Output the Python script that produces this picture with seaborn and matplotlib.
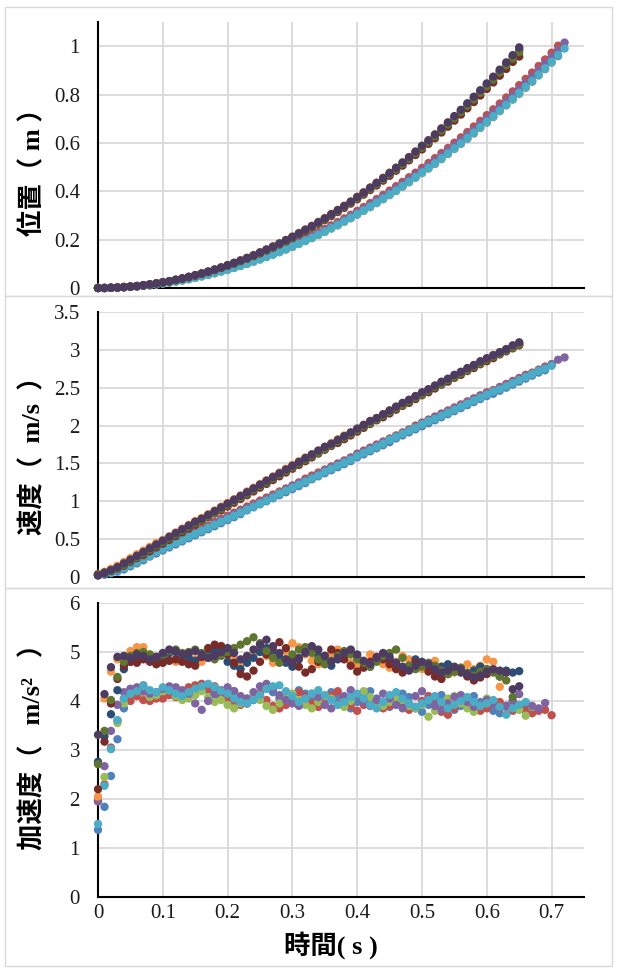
import pandas as pd
import matplotlib
matplotlib.use('Agg')
import matplotlib.pyplot as plt
from matplotlib.patches import Rectangle
from matplotlib.ticker import FuncFormatter
import seaborn as sns

sns.set_style('white')
plt.rcParams['font.family'] = ['Liberation Serif', 'Noto Sans CJK JP']

# time axis (s), 0.01 s steps
T = [0.00, 0.01, 0.02, 0.03, 0.04, 0.05, 0.06, 0.07, 0.08, 0.09,
     0.10, 0.11, 0.12, 0.13, 0.14, 0.15, 0.16, 0.17, 0.18, 0.19,
     0.20, 0.21, 0.22, 0.23, 0.24, 0.25, 0.26, 0.27, 0.28, 0.29,
     0.30, 0.31, 0.32, 0.33, 0.34, 0.35, 0.36, 0.37, 0.38, 0.39,
     0.40, 0.41, 0.42, 0.43, 0.44, 0.45, 0.46, 0.47, 0.48, 0.49,
     0.50, 0.51, 0.52, 0.53, 0.54, 0.55, 0.56, 0.57, 0.58, 0.59,
     0.60, 0.61, 0.62, 0.63, 0.64, 0.65, 0.66, 0.67, 0.68, 0.69,
     0.70, 0.71, 0.72]

SERIES = ['系列1', '系列2', '系列3', '系列4', '系列5',
          '系列6', '系列7', '系列8', '系列9', '系列10']
COLORS = ['#4F81BD', '#C0504D', '#9BBB59', '#8064A2', '#4BACC6',
          '#F79646', '#2C4D75', '#772C2A', '#5F7530', '#4D3B62']

# ---- position (m)
pos_1 = [0.000, 0.000, 0.001, 0.001, 0.003, 0.004, 0.006, 0.009, 0.011, 0.014,
         0.018, 0.022, 0.027, 0.031, 0.036, 0.042, 0.048, 0.054, 0.061, 0.068,
         0.075, 0.083, 0.091, 0.100, 0.109, 0.118, 0.128, 0.138, 0.148, 0.159,
         0.170, 0.182, 0.194, 0.206, 0.219, 0.232, 0.246, 0.259, 0.274, 0.288,
         0.303, 0.319, 0.334, 0.351, 0.367, 0.384, 0.401, 0.419, 0.437, 0.456,
         0.475, 0.494, 0.513, 0.533, 0.554, 0.575, 0.596, 0.617, 0.639, 0.662,
         0.684, 0.707, 0.731, 0.755, 0.779, 0.803, 0.828, 0.853, 0.879, 0.905,
         0.932, 0.959]
pos_2 = [0.000, 0.000, 0.001, 0.002, 0.003, 0.005, 0.007, 0.010, 0.013, 0.016,
         0.020, 0.024, 0.029, 0.034, 0.039, 0.045, 0.051, 0.058, 0.065, 0.072,
         0.080, 0.088, 0.097, 0.106, 0.115, 0.125, 0.135, 0.146, 0.157, 0.168,
         0.180, 0.192, 0.205, 0.218, 0.231, 0.245, 0.259, 0.273, 0.288, 0.303,
         0.319, 0.335, 0.351, 0.368, 0.385, 0.403, 0.421, 0.439, 0.458, 0.477,
         0.497, 0.517, 0.537, 0.558, 0.579, 0.601, 0.623, 0.645, 0.668, 0.691,
         0.715, 0.739, 0.763, 0.788, 0.813, 0.839, 0.865, 0.891, 0.918, 0.945,
         0.973, 1.002]
pos_3 = [0.000, 0.000, 0.001, 0.002, 0.003, 0.005, 0.007, 0.009, 0.012, 0.015,
         0.019, 0.023, 0.027, 0.032, 0.037, 0.043, 0.048, 0.055, 0.061, 0.068,
         0.076, 0.084, 0.092, 0.100, 0.109, 0.119, 0.128, 0.139, 0.149, 0.160,
         0.171, 0.183, 0.195, 0.207, 0.220, 0.233, 0.247, 0.261, 0.275, 0.290,
         0.305, 0.320, 0.336, 0.352, 0.369, 0.386, 0.403, 0.421, 0.439, 0.458,
         0.477, 0.496, 0.516, 0.536, 0.556, 0.577, 0.598, 0.620, 0.642, 0.664,
         0.687, 0.710, 0.733, 0.757, 0.781, 0.806, 0.831, 0.856, 0.882, 0.908,
         0.935]
pos_4 = [0.000, 0.000, 0.001, 0.002, 0.003, 0.005, 0.007, 0.010, 0.012, 0.016,
         0.019, 0.024, 0.028, 0.033, 0.038, 0.044, 0.050, 0.056, 0.063, 0.070,
         0.078, 0.086, 0.094, 0.103, 0.112, 0.122, 0.132, 0.142, 0.153, 0.164,
         0.176, 0.188, 0.200, 0.213, 0.226, 0.239, 0.253, 0.267, 0.282, 0.297,
         0.312, 0.328, 0.344, 0.361, 0.378, 0.395, 0.413, 0.431, 0.449, 0.468,
         0.488, 0.507, 0.527, 0.548, 0.569, 0.590, 0.612, 0.634, 0.656, 0.679,
         0.702, 0.726, 0.750, 0.774, 0.799, 0.824, 0.850, 0.876, 0.902, 0.929,
         0.956, 0.985, 1.015]
pos_5 = [0.000, 0.000, 0.001, 0.002, 0.003, 0.005, 0.007, 0.009, 0.012, 0.015,
         0.019, 0.023, 0.028, 0.032, 0.037, 0.043, 0.049, 0.055, 0.062, 0.069,
         0.076, 0.084, 0.092, 0.101, 0.110, 0.119, 0.129, 0.139, 0.150, 0.161,
         0.172, 0.184, 0.196, 0.208, 0.221, 0.234, 0.248, 0.261, 0.276, 0.291,
         0.306, 0.321, 0.337, 0.353, 0.370, 0.387, 0.404, 0.422, 0.440, 0.459,
         0.478, 0.497, 0.516, 0.537, 0.557, 0.578, 0.599, 0.621, 0.643, 0.665,
         0.688, 0.711, 0.734, 0.758, 0.782, 0.807, 0.832, 0.857, 0.883, 0.909,
         0.936, 0.963, 0.990]
pos_6 = [0.000, 0.001, 0.002, 0.003, 0.005, 0.007, 0.009, 0.012, 0.016, 0.020,
         0.025, 0.029, 0.035, 0.041, 0.047, 0.054, 0.061, 0.069, 0.077, 0.086,
         0.095, 0.105, 0.115, 0.126, 0.137, 0.148, 0.160, 0.173, 0.186, 0.199,
         0.213, 0.228, 0.243, 0.258, 0.274, 0.290, 0.307, 0.324, 0.341, 0.359,
         0.378, 0.397, 0.416, 0.436, 0.456, 0.477, 0.498, 0.520, 0.542, 0.565,
         0.588, 0.611, 0.635, 0.659, 0.684, 0.709, 0.735, 0.761, 0.788, 0.815,
         0.843, 0.871, 0.900, 0.929, 0.958, 0.988]
pos_7 = [0.000, 0.000, 0.001, 0.002, 0.004, 0.006, 0.008, 0.011, 0.015, 0.019,
         0.023, 0.028, 0.034, 0.039, 0.046, 0.053, 0.060, 0.067, 0.076, 0.084,
         0.094, 0.103, 0.113, 0.123, 0.134, 0.146, 0.158, 0.170, 0.183, 0.197,
         0.210, 0.225, 0.239, 0.254, 0.270, 0.286, 0.303, 0.320, 0.337, 0.355,
         0.374, 0.393, 0.412, 0.432, 0.452, 0.473, 0.494, 0.516, 0.538, 0.561,
         0.584, 0.607, 0.631, 0.656, 0.681, 0.706, 0.732, 0.759, 0.785, 0.813,
         0.840, 0.868, 0.897, 0.926, 0.956, 0.985]
pos_8 = [0.000, 0.000, 0.001, 0.002, 0.004, 0.006, 0.008, 0.011, 0.014, 0.018,
         0.023, 0.027, 0.033, 0.038, 0.044, 0.051, 0.058, 0.066, 0.074, 0.083,
         0.092, 0.101, 0.111, 0.121, 0.132, 0.143, 0.155, 0.167, 0.180, 0.193,
         0.207, 0.221, 0.235, 0.250, 0.265, 0.281, 0.297, 0.314, 0.331, 0.349,
         0.367, 0.386, 0.405, 0.424, 0.444, 0.464, 0.485, 0.506, 0.528, 0.550,
         0.573, 0.596, 0.619, 0.643, 0.667, 0.692, 0.717, 0.743, 0.769, 0.796,
         0.823, 0.850, 0.878, 0.906, 0.935, 0.957]
pos_9 = [0.000, 0.000, 0.001, 0.002, 0.004, 0.006, 0.008, 0.011, 0.015, 0.019,
         0.023, 0.028, 0.033, 0.039, 0.045, 0.052, 0.059, 0.067, 0.075, 0.084,
         0.093, 0.102, 0.112, 0.122, 0.133, 0.145, 0.157, 0.169, 0.182, 0.195,
         0.209, 0.223, 0.238, 0.253, 0.268, 0.284, 0.301, 0.318, 0.335, 0.353,
         0.371, 0.390, 0.409, 0.429, 0.449, 0.470, 0.491, 0.512, 0.534, 0.557,
         0.580, 0.603, 0.627, 0.651, 0.676, 0.701, 0.727, 0.753, 0.780, 0.807,
         0.834, 0.862, 0.891, 0.920, 0.949, 0.975]
pos_10 = [0.000, 0.000, 0.001, 0.002, 0.004, 0.006, 0.008, 0.012, 0.015, 0.019,
          0.024, 0.028, 0.034, 0.040, 0.046, 0.053, 0.060, 0.068, 0.076, 0.085,
          0.094, 0.104, 0.114, 0.124, 0.135, 0.147, 0.159, 0.171, 0.184, 0.198,
          0.212, 0.226, 0.241, 0.256, 0.272, 0.288, 0.305, 0.322, 0.339, 0.357,
          0.376, 0.395, 0.415, 0.435, 0.455, 0.476, 0.497, 0.519, 0.541, 0.564,
          0.588, 0.611, 0.635, 0.660, 0.685, 0.711, 0.737, 0.764, 0.791, 0.818,
          0.846, 0.874, 0.903, 0.933, 0.963, 0.995]

# ---- velocity (m/s)
vel_1 = [0.02, 0.03, 0.05, 0.07, 0.10, 0.14, 0.18, 0.22, 0.27, 0.31,
         0.35, 0.39, 0.43, 0.47, 0.51, 0.55, 0.59, 0.63, 0.67, 0.71,
         0.75, 0.79, 0.83, 0.88, 0.92, 0.96, 1.00, 1.04, 1.08, 1.12,
         1.16, 1.20, 1.24, 1.29, 1.33, 1.37, 1.41, 1.45, 1.49, 1.53,
         1.58, 1.62, 1.66, 1.70, 1.74, 1.78, 1.83, 1.87, 1.91, 1.95,
         1.99, 2.03, 2.07, 2.11, 2.15, 2.19, 2.23, 2.27, 2.31, 2.35,
         2.39, 2.42, 2.46, 2.50, 2.54, 2.58, 2.62, 2.66, 2.70, 2.73]
vel_2 = [0.04, 0.06, 0.09, 0.12, 0.16, 0.20, 0.24, 0.28, 0.32, 0.36,
         0.40, 0.44, 0.48, 0.52, 0.56, 0.60, 0.64, 0.68, 0.73, 0.77,
         0.81, 0.85, 0.89, 0.93, 0.97, 1.01, 1.05, 1.09, 1.13, 1.17,
         1.21, 1.25, 1.30, 1.34, 1.38, 1.42, 1.46, 1.50, 1.54, 1.58,
         1.63, 1.67, 1.71, 1.75, 1.79, 1.83, 1.87, 1.91, 1.95, 2.00,
         2.04, 2.08, 2.12, 2.16, 2.20, 2.24, 2.28, 2.32, 2.36, 2.40,
         2.44, 2.47, 2.51, 2.55, 2.59, 2.63, 2.67, 2.70, 2.74, 2.78,
         2.81]
vel_3 = [0.03, 0.05, 0.07, 0.10, 0.13, 0.17, 0.21, 0.25, 0.29, 0.34,
         0.38, 0.42, 0.46, 0.50, 0.54, 0.58, 0.62, 0.66, 0.70, 0.74,
         0.78, 0.82, 0.86, 0.90, 0.94, 0.98, 1.02, 1.07, 1.11, 1.15,
         1.19, 1.23, 1.27, 1.31, 1.36, 1.40, 1.44, 1.48, 1.52, 1.56,
         1.61, 1.65, 1.69, 1.73, 1.77, 1.82, 1.86, 1.90, 1.94, 1.98,
         2.02, 2.06, 2.10, 2.14, 2.18, 2.22, 2.26, 2.30, 2.34, 2.38,
         2.42, 2.46, 2.49, 2.53, 2.57, 2.61, 2.65, 2.69, 2.73, 2.77,
         2.80]
vel_4 = [0.03, 0.05, 0.08, 0.11, 0.14, 0.18, 0.22, 0.26, 0.30, 0.34,
         0.38, 0.42, 0.46, 0.50, 0.54, 0.58, 0.62, 0.66, 0.71, 0.75,
         0.79, 0.83, 0.87, 0.91, 0.95, 0.99, 1.03, 1.07, 1.11, 1.16,
         1.20, 1.24, 1.28, 1.32, 1.36, 1.41, 1.45, 1.49, 1.53, 1.57,
         1.62, 1.66, 1.70, 1.74, 1.78, 1.82, 1.86, 1.90, 1.94, 1.98,
         2.03, 2.07, 2.11, 2.15, 2.19, 2.23, 2.27, 2.31, 2.35, 2.39,
         2.43, 2.46, 2.50, 2.54, 2.58, 2.62, 2.66, 2.69, 2.73, 2.77,
         2.81, 2.87, 2.90]
vel_5 = [0.03, 0.04, 0.06, 0.09, 0.12, 0.16, 0.20, 0.24, 0.28, 0.33,
         0.37, 0.41, 0.45, 0.49, 0.53, 0.57, 0.61, 0.65, 0.69, 0.73,
         0.77, 0.81, 0.85, 0.89, 0.93, 0.97, 1.01, 1.05, 1.10, 1.14,
         1.18, 1.22, 1.26, 1.30, 1.34, 1.39, 1.43, 1.47, 1.51, 1.55,
         1.60, 1.64, 1.68, 1.72, 1.76, 1.81, 1.85, 1.89, 1.93, 1.97,
         2.02, 2.06, 2.09, 2.13, 2.17, 2.21, 2.25, 2.29, 2.33, 2.37,
         2.41, 2.45, 2.48, 2.52, 2.56, 2.60, 2.64, 2.68, 2.72, 2.75,
         2.79]
vel_6 = [0.04, 0.07, 0.11, 0.15, 0.20, 0.25, 0.30, 0.35, 0.40, 0.45,
         0.49, 0.54, 0.59, 0.64, 0.69, 0.74, 0.78, 0.83, 0.88, 0.93,
         0.98, 1.03, 1.08, 1.13, 1.18, 1.23, 1.28, 1.33, 1.38, 1.43,
         1.48, 1.53, 1.58, 1.62, 1.67, 1.72, 1.77, 1.82, 1.87, 1.91,
         1.96, 2.01, 2.06, 2.10, 2.15, 2.20, 2.25, 2.29, 2.34, 2.39,
         2.43, 2.48, 2.52, 2.57, 2.61, 2.66, 2.71, 2.75, 2.80, 2.84,
         2.88, 2.93, 2.97, 3.01, 3.05, 3.09]
vel_7 = [0.03, 0.06, 0.09, 0.12, 0.17, 0.22, 0.27, 0.32, 0.37, 0.42,
         0.47, 0.52, 0.57, 0.62, 0.67, 0.72, 0.76, 0.81, 0.86, 0.91,
         0.96, 1.01, 1.06, 1.11, 1.16, 1.21, 1.26, 1.31, 1.36, 1.41,
         1.46, 1.51, 1.56, 1.61, 1.66, 1.70, 1.75, 1.80, 1.85, 1.90,
         1.95, 2.00, 2.04, 2.09, 2.14, 2.19, 2.24, 2.28, 2.33, 2.38,
         2.42, 2.47, 2.52, 2.56, 2.61, 2.65, 2.70, 2.74, 2.79, 2.83,
         2.88, 2.92, 2.96, 3.00, 3.04, 3.08]
vel_8 = [0.03, 0.05, 0.08, 0.11, 0.15, 0.20, 0.25, 0.29, 0.34, 0.39,
         0.44, 0.49, 0.54, 0.59, 0.64, 0.69, 0.74, 0.79, 0.84, 0.88,
         0.93, 0.98, 1.03, 1.08, 1.13, 1.18, 1.23, 1.28, 1.33, 1.38,
         1.43, 1.48, 1.53, 1.58, 1.63, 1.68, 1.73, 1.77, 1.82, 1.87,
         1.92, 1.97, 2.02, 2.07, 2.11, 2.16, 2.21, 2.26, 2.30, 2.35,
         2.40, 2.44, 2.49, 2.54, 2.58, 2.63, 2.67, 2.72, 2.76, 2.81,
         2.85, 2.89, 2.94, 2.98, 3.02, 3.06]
vel_9 = [0.03, 0.05, 0.08, 0.12, 0.16, 0.21, 0.26, 0.31, 0.36, 0.41,
         0.46, 0.51, 0.56, 0.61, 0.66, 0.71, 0.75, 0.80, 0.85, 0.90,
         0.95, 1.00, 1.05, 1.10, 1.15, 1.20, 1.25, 1.30, 1.35, 1.40,
         1.45, 1.50, 1.55, 1.60, 1.64, 1.69, 1.74, 1.79, 1.84, 1.89,
         1.94, 1.99, 2.03, 2.08, 2.13, 2.18, 2.23, 2.27, 2.32, 2.37,
         2.41, 2.46, 2.51, 2.55, 2.60, 2.64, 2.69, 2.73, 2.78, 2.82,
         2.87, 2.91, 2.95, 2.99, 3.03, 3.07]
vel_10 = [0.02, 0.05, 0.09, 0.13, 0.18, 0.23, 0.28, 0.33, 0.38, 0.43,
          0.48, 0.53, 0.58, 0.63, 0.68, 0.73, 0.77, 0.82, 0.87, 0.92,
          0.97, 1.02, 1.07, 1.12, 1.17, 1.22, 1.27, 1.32, 1.37, 1.42,
          1.47, 1.52, 1.57, 1.62, 1.67, 1.72, 1.76, 1.81, 1.86, 1.91,
          1.96, 2.01, 2.06, 2.10, 2.15, 2.20, 2.25, 2.30, 2.34, 2.39,
          2.44, 2.48, 2.53, 2.58, 2.62, 2.67, 2.71, 2.76, 2.80, 2.85,
          2.89, 2.93, 2.97, 3.01, 3.06, 3.10]

# ---- acceleration (m/s^2)
acc_1 = [1.37, 1.84, 2.47, 3.22, 3.85, 4.10, 4.25, 4.32, 4.20, 4.15,
         4.22, 4.28, 4.18, 4.05, 4.10, 4.25, 4.30, 4.22, 4.12, 4.08,
         4.15, 4.20, 4.05, 3.95, 4.02, 4.12, 4.25, 4.18, 4.05, 3.98,
         4.10, 4.22, 4.15, 4.00, 3.92, 4.05, 4.18, 4.10, 3.95, 3.85,
         3.98, 4.12, 4.20, 4.05, 3.92, 3.88, 4.00, 4.15, 4.08, 3.85,
         3.78, 3.92, 4.05, 4.12, 3.95, 3.82, 3.90, 4.02, 4.10, 3.98,
         3.88, 3.80, 3.75, 3.90, 4.00, 3.85, 3.78]
acc_2 = [1.95, 2.30, 3.05, 3.60, 4.05, 4.00, 4.10, 4.02, 4.00, 4.05,
         4.05, 4.12, 4.08, 4.20, 4.28, 4.32, 4.35, 4.25, 4.30, 4.15,
         4.05, 3.98, 3.92, 3.95, 4.05, 4.15, 4.02, 3.90, 3.85, 3.92,
         4.05, 4.18, 4.10, 3.95, 3.88, 3.98, 4.12, 4.20, 4.05, 3.90,
         3.80, 3.92, 4.05, 3.98, 3.85, 3.90, 4.05, 3.95, 3.82, 3.88,
         4.00, 4.10, 3.92, 3.78, 3.72, 3.85, 3.95, 4.05, 3.90, 3.80,
         3.85, 3.95, 3.98, 3.88, 3.80, 3.92, 3.85, 3.75, 3.80, 3.82,
         3.71]
acc_3 = [2.02, 2.45, 3.02, 3.55, 3.95, 4.15, 4.25, 4.18, 4.08, 4.12,
         4.20, 4.22, 4.10, 4.02, 4.05, 4.12, 4.20, 4.08, 3.98, 4.02,
         3.92, 3.85, 3.95, 4.05, 4.10, 4.02, 3.90, 3.82, 3.95, 4.08,
         4.15, 4.02, 3.92, 3.85, 3.98, 4.10, 4.05, 3.95, 3.88, 4.00,
         4.12, 4.20, 4.08, 3.95, 3.90, 3.98, 4.05, 4.02, 3.90, 3.85,
         3.92, 3.68, 3.80, 3.95, 4.05, 4.10, 3.95, 3.85, 3.78, 3.92,
         4.05, 3.98, 3.85, 3.90, 3.95, 3.82, 3.70, 3.88]
acc_4 = [1.96, 2.67, 3.39, 3.92, 4.18, 4.25, 4.28, 4.20, 4.15, 4.18,
         4.25, 4.30, 4.28, 4.22, 4.15, 3.95, 3.82, 4.00, 4.15, 4.22,
         4.28, 4.20, 4.10, 4.05, 4.18, 4.30, 4.35, 4.25, 4.12, 4.02,
         3.95, 3.90, 4.05, 4.15, 4.08, 3.92, 3.85, 3.95, 4.10, 4.22,
         4.12, 3.98, 3.90, 4.02, 4.15, 4.05, 3.92, 3.85, 3.95, 4.10,
         4.20, 4.05, 3.90, 3.82, 3.95, 4.08, 4.12, 3.98, 3.88, 3.92,
         4.02, 3.95, 3.85, 3.90, 4.00, 4.14, 3.96, 3.90, 3.85, 3.96]
acc_5 = [1.49, 2.27, 3.02, 3.61, 4.05, 4.15, 4.20, 4.30, 4.22, 4.18,
         4.28, 4.22, 4.15, 4.10, 4.18, 4.25, 4.30, 4.35, 4.28, 4.20,
         4.15, 4.05, 3.98, 3.95, 4.02, 4.12, 4.25, 4.30, 4.32, 4.20,
         4.10, 3.98, 4.05, 4.15, 4.22, 4.12, 4.02, 3.92, 3.98, 4.08,
         4.15, 4.05, 3.92, 3.85, 3.98, 4.12, 4.18, 4.05, 3.95, 3.88,
         3.95, 4.02, 4.10, 3.98, 3.85, 3.92, 4.00, 4.08, 3.98, 3.90,
         3.95, 4.02, 3.88, 3.72, 3.85, 3.92, 3.98]
acc_6 = [2.05, 4.05, 4.60, 4.85, 4.90, 5.02, 5.10, 5.10, 4.95, 4.82,
         4.78, 4.85, 4.80, 4.88, 4.92, 4.85, 4.80, 4.88, 5.05, 5.12,
         5.00, 4.85, 4.75, 4.82, 4.95, 5.05, 4.92, 4.78, 4.85, 5.02,
         5.18, 5.10, 4.95, 4.82, 4.75, 4.85, 4.98, 5.05, 4.90, 4.78,
         4.70, 4.82, 4.95, 4.88, 4.75, 4.68, 4.80, 4.92, 4.85, 4.72,
         4.65, 4.75, 4.82, 4.70, 4.62, 4.58, 4.68, 4.75, 4.65, 4.72,
         4.85, 4.80, 4.29]
acc_7 = [2.76, 3.28, 3.73, 4.22, 4.65, 4.80, 4.88, 4.95, 4.90, 4.85,
         4.92, 4.98, 5.00, 4.95, 4.88, 4.82, 4.90, 4.98, 5.02, 4.95,
         4.80, 4.72, 4.65, 4.78, 4.88, 5.00, 5.08, 5.02, 4.90, 4.78,
         4.70, 4.85, 4.98, 5.05, 4.92, 4.80, 4.72, 4.85, 4.95, 5.02,
         4.90, 4.78, 4.70, 4.82, 4.92, 4.85, 4.75, 4.65, 4.72, 4.85,
         4.78, 4.68, 4.62, 4.70, 4.75, 4.65, 4.58, 4.52, 4.62, 4.70,
         4.65, 4.60, 4.55, 4.62, 4.58, 4.61]
acc_8 = [2.20, 3.17, 3.95, 4.45, 4.72, 4.80, 4.78, 4.85, 4.80, 4.75,
         4.78, 4.82, 4.85, 4.80, 4.75, 4.72, 4.90, 5.08, 5.15, 5.12,
         4.95, 4.78, 4.55, 4.50, 4.62, 4.80, 4.95, 5.10, 5.20, 5.08,
         4.88, 4.70, 4.58, 4.65, 4.80, 4.92, 5.05, 4.98, 4.85, 4.72,
         4.60, 4.68, 4.80, 4.90, 4.85, 4.75, 4.65, 4.58, 4.70, 4.78,
         4.72, 4.60, 4.50, 4.45, 4.55, 4.68, 4.62, 4.50, 4.42, 4.48,
         4.55, 4.62, 4.50]
acc_9 = [2.71, 3.39, 4.02, 4.49, 4.80, 4.92, 4.98, 5.00, 4.95, 4.90,
         4.95, 5.02, 5.05, 4.98, 5.00, 5.05, 4.98, 4.90, 4.85, 4.92,
         5.00, 5.08, 5.15, 5.22, 5.30, 5.18, 5.02, 4.88, 4.78, 4.85,
         4.95, 5.05, 5.10, 4.98, 4.85, 4.75, 4.82, 4.92, 5.02, 4.95,
         4.85, 4.78, 4.70, 4.80, 4.92, 4.98, 5.05, 4.88, 4.72, 4.65,
         4.70, 4.78, 4.72, 4.62, 4.55, 4.60, 4.68, 4.58, 4.52, 4.60,
         4.65, 4.58, 4.50, 4.42, 4.08]
acc_10 = [3.31, 4.14, 4.69, 4.90, 4.92, 4.88, 4.95, 4.92, 4.85, 4.90,
          4.98, 5.05, 5.02, 4.95, 4.98, 5.02, 4.95, 4.88, 4.92, 5.00,
          5.08, 4.98, 4.85, 4.92, 5.05, 5.15, 5.25, 5.12, 4.98, 4.85,
          4.78, 4.88, 5.00, 5.12, 5.05, 4.92, 4.80, 4.88, 4.98, 5.05,
          4.95, 4.82, 4.75, 4.88, 4.98, 4.90, 4.78, 4.70, 4.62, 4.72,
          4.80, 4.75, 4.65, 4.58, 4.62, 4.70, 4.65, 4.55, 4.48, 4.52,
          4.60, 4.65, 4.62, 4.58, 4.24, 4.30]

POS = [pos_1, pos_2, pos_3, pos_4, pos_5, pos_6, pos_7, pos_8, pos_9, pos_10]
VEL = [vel_1, vel_2, vel_3, vel_4, vel_5, vel_6, vel_7, vel_8, vel_9, vel_10]
ACC = [acc_1, acc_2, acc_3, acc_4, acc_5, acc_6, acc_7, acc_8, acc_9, acc_10]

X_TICKS = [0, 0.1, 0.2, 0.3, 0.4, 0.5, 0.6, 0.7]
Y_LABELS = ['位置（ m ）', '速度（  m/s  ）', '加速度（   m/s²   ）']
X_LABEL = '時間( s )'


def long_df(data):
    rows = []
    for name, vals in zip(SERIES, data):
        for t, v in zip(T, vals):
            rows.append({'time': t, 'value': v, 'series': name})
    return pd.DataFrame(rows)


W, H = 617, 971
fig = plt.figure(figsize=(W / 100, H / 100), dpi=100)
fig.patch.set_facecolor('white')


def rect(l, t, r, b):
    return [l / W, 1 - b / H, (r - l) / W, (b - t) / H]


# chart frames (three stacked excel charts)
for top, bot in [(7, 296), (296, 588), (588, 966)]:
    fig.patches.append(Rectangle((5 / W, 1 - bot / H), 607 / W, (bot - top) / H,
                                 transform=fig.transFigure, fill=False,
                                 edgecolor='#D9D9D9', linewidth=1.0))

panels = [
    (rect(98, 22, 584, 288), POS, (0, 1.1), [0, 0.2, 0.4, 0.6, 0.8, 1.0], 166),
    (rect(98, 312, 584, 577), VEL, (0, 3.5), [0, 0.5, 1, 1.5, 2, 2.5, 3, 3.5], 449),
    (rect(98, 603, 584, 897), ACC, (0, 6), [0, 1, 2, 3, 4, 5, 6], 740),
]

fmt = FuncFormatter(lambda v, p: '%g' % v)
for i, (pos, data, ylim, yticks, label_y) in enumerate(panels):
    ax = fig.add_axes(pos)
    sns.scatterplot(data=long_df(data), x='time', y='value', hue='series',
                    palette=COLORS, s=36, linewidth=0, legend=False,
                    clip_on=False, ax=ax, zorder=3)
    ax.set_xlim(0, 0.75)
    ax.set_ylim(*ylim)
    ax.set_xticks(X_TICKS)
    ax.set_yticks(yticks)
    ax.xaxis.set_major_formatter(fmt)
    ax.yaxis.set_major_formatter(fmt)
    ax.grid(True, color='#D9D9D9', linewidth=1.3)
    ax.set_axisbelow(True)
    for side in ['top', 'right']:
        ax.spines[side].set_visible(False)
    for side in ['left', 'bottom']:
        ax.spines[side].set_color('black')
        ax.spines[side].set_linewidth(1.5)
        ax.spines[side].set_zorder(2)
    ax.tick_params(axis='both', length=0, labelsize=15, colors='#1a1a1a')
    ax.tick_params(axis='y', pad=13)
    ax.tick_params(axis='x', pad=5)
    if i < 2:
        ax.set_xticklabels([])
    ax.set_xlabel('')
    ax.set_ylabel('')
    fig.text(33 / W, 1 - label_y / H, Y_LABELS[i], rotation=90, ha='center',
             va='center', fontsize=19, weight='bold', color='black')

fig.text(331 / W, 1 - 945 / H, X_LABEL, ha='center', va='center',
         fontsize=19, weight='bold', color='black')

fig.savefig('out.png', dpi=100, facecolor='white')
